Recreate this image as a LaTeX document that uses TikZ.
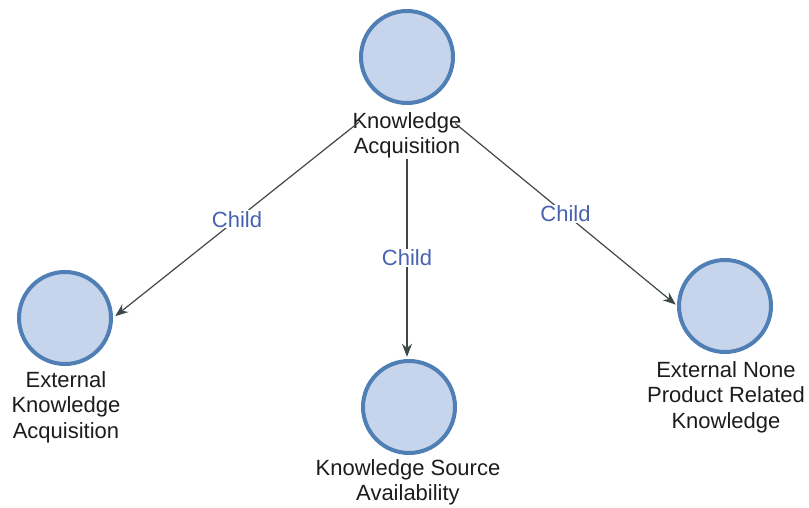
\documentclass[tikz,border=0pt]{standalone}
\usepackage{fontspec}
\setmainfont{Liberation Sans}
\usetikzlibrary{arrows.meta}
\definecolor{ringblue}{HTML}{4F7FB5}
\definecolor{fillblue}{HTML}{C6D5EB}
\definecolor{edgegray}{HTML}{3E4848}
\definecolor{childblue}{HTML}{4862B0}
\definecolor{labelgray}{HTML}{1C1C1C}
\tikzset{
  concept/.style={circle, draw=ringblue, fill=fillblue, line width=4pt,
    minimum size=92pt, inner sep=0pt},
  conceptlabel/.style={anchor=north, align=center, inner sep=0pt,
    text=labelgray, font=\fontsize{22}{25.5}\selectfont},
  entity/.style={rectangle, draw=none, inner sep=0pt},
  childedge/.style={draw=edgegray, line width=1.2pt,
    -{Stealth[length=13pt,width=10pt]}},
  childtag/.style={fill=white, inner sep=1pt, text=childblue,
    font=\fontsize{22}{25}\selectfont}
}
\begin{document}
\begin{tikzpicture}[x=1pt, y=-1pt]
\useasboundingbox (0,0) rectangle (809,508);

% circles
\node[concept] (c-ka)  at (407,57)  {};
\node[concept] (c-eka) at (65,318)  {};
\node[concept] (c-ksa) at (409,407) {};
\node[concept] (c-enp) at (725,306) {};

% captions
\node[conceptlabel] (l-ka)  at (407,112) {Knowledge\\Acquisition};
\node[conceptlabel] (l-eka) at (66,371)  {External\\Knowledge\\Acquisition};
\node[conceptlabel] (l-ksa) at (408,459) {Knowledge Source\\Availability};
\node[conceptlabel] (l-enp) at (726,361) {External None\\Product Related\\Knowledge};

% whole concept boxes (circle + caption) used as edge ends
\node[entity, minimum width=96pt, minimum height=150pt] (ka)  at (407,84)  {};
\node[entity, minimum width=100pt, minimum height=173pt] (eka) at (65,356)  {};
\node[entity, minimum width=96pt, minimum height=150pt] (ksa) at (407,432) {};
\node[entity, minimum width=98pt, minimum height=174pt] (enp) at (725,345) {};

% child relations
\draw[childedge] (ka) -- node[childtag] {Child} (eka);
\draw[childedge] (ka) -- node[childtag] {Child} (ksa);
\draw[childedge] (ka) -- node[childtag] {Child} (enp);
\end{tikzpicture}
\end{document}
